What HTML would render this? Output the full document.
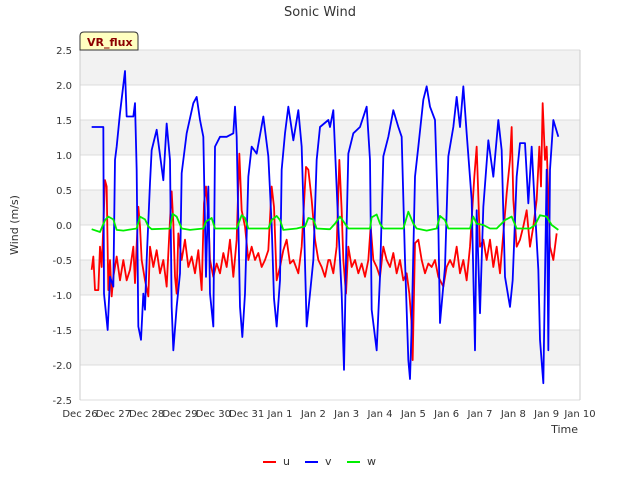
<!DOCTYPE html>
<html><head><meta charset="utf-8"><style>
body{margin:0;background:#fff;font-family:"Liberation Sans",sans-serif}
svg text{font-family:"DejaVu Sans","Liberation Sans",sans-serif}
</style></head><body>
<svg id="c" width="640" height="480" xmlns="http://www.w3.org/2000/svg"></svg>
<script>
const xTickLabels=["Dec 26","Dec 27","Dec 28","Dec 29","Dec 30","Dec 31","Jan 1","Jan 2","Jan 3","Jan 4","Jan 5","Jan 6","Jan 7","Jan 8","Jan 9","Jan 10"];
const yTicks=[2.5,2.0,1.5,1.0,0.5,0.0,-0.5,-1.0,-1.5,-2.0,-2.5];
const vTimes=[0.35,0.70,0.72,0.83,0.90,1.00,1.05,1.10,1.20,1.35,1.40,1.60,1.65,1.70,1.75,1.83,1.90,1.95,2.00,2.10,2.15,2.30,2.50,2.60,2.70,2.75,2.80,2.90,3.00,3.05,3.20,3.40,3.50,3.60,3.70,3.78,3.85,3.90,4.00,4.05,4.20,4.40,4.60,4.65,4.70,4.80,4.87,4.95,5.05,5.15,5.30,5.50,5.65,5.75,5.82,5.90,6.00,6.05,6.15,6.25,6.40,6.55,6.65,6.72,6.80,6.90,7.00,7.10,7.20,7.45,7.50,7.60,7.75,7.85,7.92,8.00,8.05,8.20,8.40,8.60,8.70,8.75,8.90,9.00,9.10,9.25,9.40,9.55,9.65,9.75,9.85,9.90,9.95,10.05,10.15,10.30,10.40,10.50,10.65,10.75,10.80,10.95,11.05,11.20,11.30,11.40,11.50,11.60,11.75,11.85,11.90,12.00,12.10,12.25,12.40,12.55,12.65,12.75,12.90,12.98,13.10,13.20,13.35,13.45,13.55,13.65,13.75,13.80,13.90,14.00,14.05,14.10,14.20,14.35];
const vVals=[1.40,1.40,-0.98,-1.50,-0.74,-0.88,0.93,1.12,1.60,2.2,1.55,1.55,1.74,0.79,-1.45,-1.64,-0.98,-1.21,-0.50,0.60,1.07,1.36,0.64,1.45,0.93,-1.17,-1.79,-1.17,-0.69,0.74,1.31,1.74,1.83,1.50,1.26,-0.74,0.55,-0.98,-1.45,1.12,1.26,1.26,1.31,1.69,1.26,-1.17,-1.60,-0.98,0.69,1.12,1.02,1.55,0.98,0.0,-1.05,-1.45,-0.79,0.79,1.31,1.69,1.21,1.64,1.12,0.0,-1.45,-0.98,-0.50,0.93,1.40,1.50,1.40,1.64,-0.02,-0.98,-2.07,0.0,1.02,1.31,1.40,1.69,0.93,-1.21,-1.79,-0.74,0.98,1.26,1.64,1.40,1.26,-0.50,-1.93,-2.2,-1.45,0.69,1.12,1.79,1.98,1.69,1.50,0.0,-1.40,-0.60,0.98,1.40,1.83,1.40,1.98,1.31,0.36,-1.79,0.21,-1.26,0.26,1.21,0.69,1.50,1.07,-0.74,-1.17,-0.79,0.69,1.17,1.17,0.31,1.12,0.21,-0.64,-1.64,-2.26,0.79,-1.79,0.79,1.50,1.26];
const uTimes=[0.35,0.40,0.45,0.55,0.60,0.65,0.70,0.75,0.80,0.85,0.90,0.95,1.00,1.10,1.20,1.30,1.40,1.50,1.60,1.65,1.75,1.80,1.85,1.95,2.05,2.10,2.20,2.30,2.40,2.50,2.60,2.70,2.75,2.80,2.85,2.90,2.95,3.05,3.15,3.25,3.35,3.45,3.55,3.65,3.72,3.78,3.85,3.90,4.00,4.10,4.20,4.30,4.40,4.50,4.60,4.70,4.78,4.85,4.95,5.05,5.15,5.25,5.35,5.45,5.55,5.65,5.75,5.82,5.90,6.00,6.10,6.20,6.30,6.40,6.55,6.65,6.78,6.85,6.95,7.05,7.15,7.25,7.35,7.45,7.50,7.60,7.70,7.78,7.85,7.90,7.98,8.05,8.15,8.25,8.35,8.45,8.55,8.65,8.72,8.80,8.90,9.00,9.10,9.20,9.30,9.40,9.50,9.60,9.70,9.80,9.88,9.94,9.98,10.05,10.15,10.25,10.35,10.45,10.55,10.65,10.75,10.90,11.00,11.10,11.20,11.30,11.40,11.50,11.60,11.70,11.78,11.83,11.90,12.00,12.10,12.20,12.30,12.40,12.50,12.60,12.70,12.80,12.90,12.95,13.00,13.10,13.20,13.30,13.40,13.50,13.60,13.70,13.78,13.83,13.88,13.95,14.00,14.10,14.20,14.30];
const uVals=[-0.64,-0.45,-0.93,-0.93,-0.31,-0.60,-0.02,0.64,0.55,-0.93,-0.50,-1.02,-0.74,-0.45,-0.79,-0.50,-0.79,-0.64,-0.31,-0.83,0.26,-0.02,-0.50,-0.79,-1.02,-0.31,-0.60,-0.36,-0.69,-0.50,-0.88,0.07,0.48,0.02,-0.74,-0.98,-0.12,-0.50,-0.21,-0.60,-0.45,-0.69,-0.36,-0.93,0.31,0.55,0.12,-0.50,-0.74,-0.55,-0.69,-0.40,-0.60,-0.21,-0.74,-0.21,1.02,0.21,-0.02,-0.50,-0.31,-0.50,-0.40,-0.60,-0.50,-0.36,0.55,0.26,-0.79,-0.60,-0.36,-0.21,-0.55,-0.50,-0.69,-0.31,0.83,0.79,0.36,-0.21,-0.50,-0.60,-0.74,-0.50,-0.50,-0.69,-0.31,0.93,0.21,-0.50,-0.98,-0.31,-0.60,-0.50,-0.69,-0.55,-0.74,-0.50,-0.02,-0.50,-0.60,-0.74,-0.31,-0.50,-0.60,-0.40,-0.69,-0.50,-0.79,-0.69,-0.98,-1.36,-1.93,-0.26,-0.21,-0.50,-0.69,-0.55,-0.60,-0.50,-0.74,-0.88,-0.60,-0.50,-0.60,-0.31,-0.69,-0.50,-0.79,-0.31,0.31,0.69,1.12,-0.31,-0.21,-0.50,-0.21,-0.60,-0.31,-0.69,-0.12,0.45,0.93,1.40,0.36,-0.31,-0.21,-0.02,0.21,-0.31,-0.02,0.36,1.12,0.55,1.74,0.93,1.12,-0.31,-0.50,-0.12];
const wTimes=[0.35,0.60,0.75,0.85,1.00,1.10,1.30,1.70,1.80,1.95,2.05,2.15,2.70,2.78,2.90,3.05,3.30,3.70,3.78,3.95,4.05,4.70,4.85,4.95,5.05,5.65,5.75,5.90,6.00,6.10,6.50,6.75,6.85,7.00,7.10,7.45,7.50,7.65,7.80,7.95,8.05,8.70,8.75,8.90,9.00,9.10,9.70,9.85,10.00,10.10,10.40,10.70,10.80,10.95,11.05,11.70,11.80,11.90,12.10,12.30,12.50,12.75,12.95,13.10,13.50,13.65,13.80,14.00,14.15,14.35];
const wVals=[-0.06,-0.10,0.07,0.12,0.08,-0.07,-0.08,-0.05,0.12,0.08,-0.02,-0.06,-0.05,0.16,0.12,-0.05,-0.07,-0.05,0.05,0.10,-0.05,-0.05,0.14,0.10,-0.05,-0.05,0.07,0.13,0.07,-0.07,-0.05,-0.02,0.10,0.08,-0.05,-0.06,-0.06,0.02,0.12,0.02,-0.05,-0.05,0.11,0.15,0.02,-0.05,-0.05,0.19,0.02,-0.05,-0.08,-0.05,0.13,0.07,-0.05,-0.05,0.12,0.02,0.0,-0.05,-0.05,0.07,0.12,-0.05,-0.05,0.0,0.14,0.12,0.0,-0.07];

const L=80,R=580,T=50,B=400;
const X=d=>L+(R-L)*d/15;
const Y=v=>T+(B-T)*(2.5-v)/5;
const svg=document.getElementById('c');
const NS='http://www.w3.org/2000/svg';
function mk(tag,attrs,parent){const e=document.createElementNS(NS,tag);for(const k in attrs)e.setAttribute(k,attrs[k]);(parent||svg).appendChild(e);return e;}

for(let i=0;i<yTicks.length-1;i+=2){
  const b=mk('rect',{x:L,y:Y(yTicks[i]),width:R-L,height:Y(yTicks[i+1])-Y(yTicks[i]),fill:'#f2f2f2'});
  
  
}
yTicks.forEach(v=>{
  const g=mk('line',{x1:L,x2:R,y1:Y(v),y2:Y(v),stroke:'#dcdcdc','stroke-width':1});
  
  
  const t=mk('text',{x:L-8,y:Y(v)+4,'text-anchor':'end','font-size':10,fill:'#333'});
  t.textContent=v.toFixed(1);
  
  
});
mk('line',{x1:L,x2:L,y1:T,y2:B,stroke:'#ccc'});
mk('line',{x1:R,x2:R,y1:T,y2:B,stroke:'#ccc'});
xTickLabels.forEach((s,i)=>{
  const t=mk('text',{x:X(i),y:B+17,'text-anchor':'middle','font-size':10,fill:'#333'});
  t.textContent=s;
  
  
});
function series(ts,vs,color,name){
  const p=mk('polyline',{points:ts.map((t,i)=>X(t)+','+Y(vs[i])).join(' '),fill:'none',stroke:color,'stroke-width':1.8,'stroke-linejoin':'round'});
  
  
}
series(uTimes,uVals,'#ff0000','series-u');
series(vTimes,vVals,'#0000ff','series-v');
series(wTimes,wVals,'#00ee00','series-w');
</script>
<svg width="640" height="480" style="position:absolute;left:0;top:0">
<text x="320" y="16" text-anchor="middle" font-size="13" fill="#333">Sonic Wind</text>
<text x="18" y="225" text-anchor="middle" font-size="11" fill="#333" transform="rotate(-90 18 225)">Wind (m/s)</text>
<text x="578" y="433" text-anchor="end" font-size="11" fill="#333">Time</text>
<g>
<path d="M80,50 L80,36 Q80,32 84,32 L134,32 Q138,32 138,36 L138,50 Z" fill="#ffffc0" stroke="#333"/>
<text x="87" y="46" font-size="11" font-weight="bold" fill="#8b0000">VR_flux</text>
</g>
<g>
<line x1="263" x2="276" y1="462" y2="462" stroke="#f00" stroke-width="2"/>
<text x="283" y="465" font-size="11" fill="#333">u</text>
<line x1="305" x2="318" y1="462" y2="462" stroke="#00f" stroke-width="2"/>
<text x="325" y="465" font-size="11" fill="#333">v</text>
<line x1="347" x2="360" y1="462" y2="462" stroke="#0e0" stroke-width="2"/>
<text x="367" y="465" font-size="11" fill="#333">w</text>
</g>
</svg>
</body></html>
